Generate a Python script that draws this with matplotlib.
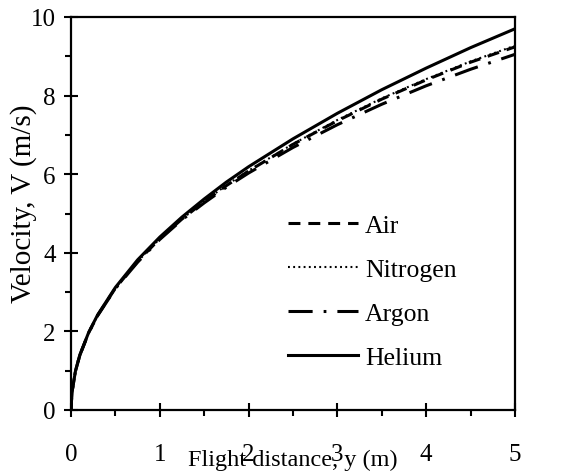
import numpy as np
import matplotlib.pyplot as plt

plt.rcParams['font.family'] = ['Liberation Serif', 'DejaVu Serif']

# distancia de vuelo (m)
y_m = [0, 0.01, 0.05, 0.1, 0.2, 0.3, 0.5, 0.75, 1, 1.25, 1.5, 1.75, 2, 2.5, 3, 3.5, 4, 4.5, 5]

# velocidad (m/s)
v_air = [0, 0.44, 0.99, 1.40, 1.97, 2.41, 3.10, 3.78, 4.36, 4.86, 5.30, 5.71, 6.08, 6.76, 7.36, 7.91, 8.40, 8.85, 9.24]
v_nitrogen = [0, 0.44, 0.99, 1.40, 1.97, 2.41, 3.10, 3.78, 4.36, 4.86, 5.31, 5.72, 6.09, 6.77, 7.38, 7.93, 8.42, 8.87, 9.27]
v_argon = [0, 0.44, 0.99, 1.40, 1.97, 2.40, 3.09, 3.76, 4.34, 4.84, 5.27, 5.67, 6.03, 6.68, 7.26, 7.78, 8.25, 8.67, 9.05]
v_helium = [0, 0.44, 0.99, 1.40, 1.98, 2.42, 3.12, 3.82, 4.40, 4.91, 5.37, 5.80, 6.19, 6.90, 7.55, 8.15, 8.70, 9.22, 9.70]

fig = plt.figure(figsize=(5.62, 4.77), dpi=100)
ax = fig.add_axes([71/562, 66/477, 444/562, 393/477])

ax.plot(y_m, v_air, color='black', lw=2.2, dashes=(3.9, 2.6), label='Air')
ax.plot(y_m, v_nitrogen, color='black', lw=1.5, dashes=(0.9, 1.6), label='Nitrogen')
ax.plot(y_m, v_argon, color='black', lw=2.2, dashes=(7.9, 3.6, 0.9, 3.6), label='Argon')
ax.plot(y_m, v_helium, color='black', lw=2.2, label='Helium')

ax.set_xlim(0, 5)
ax.set_ylim(0, 10)
ax.set_xticks(np.arange(0, 6, 1))
ax.set_xticks(np.arange(0.5, 5, 1), minor=True)
ax.set_yticks(np.arange(0, 11, 2))
ax.set_yticks(np.arange(1, 10, 2), minor=True)
ax.tick_params(which='major', direction='inout', length=10, width=1.5, labelsize=18)
ax.tick_params(which='minor', direction='out', length=4, width=1.5)
ax.tick_params(axis='x', which='major', pad=19)
ax.tick_params(axis='y', which='major', pad=6)
for s in ax.spines.values():
    s.set_linewidth(1.6)

ax.set_xlabel('Flight distance, y (m)', fontsize=17.5)
ax.set_ylabel('Velocity, V (m/s)', fontsize=21)
ax.xaxis.set_label_coords(0.5, -0.10)
ax.yaxis.set_label_coords(-0.077, 0.527)

ax.legend(loc='upper left', bbox_to_anchor=(0.489, 0.498), frameon=False, fontsize=18.5,
          handlelength=2.72, labelspacing=0.82, handletextpad=0.27, borderpad=0,
          borderaxespad=0)

fig.savefig('out.png', dpi=100)
